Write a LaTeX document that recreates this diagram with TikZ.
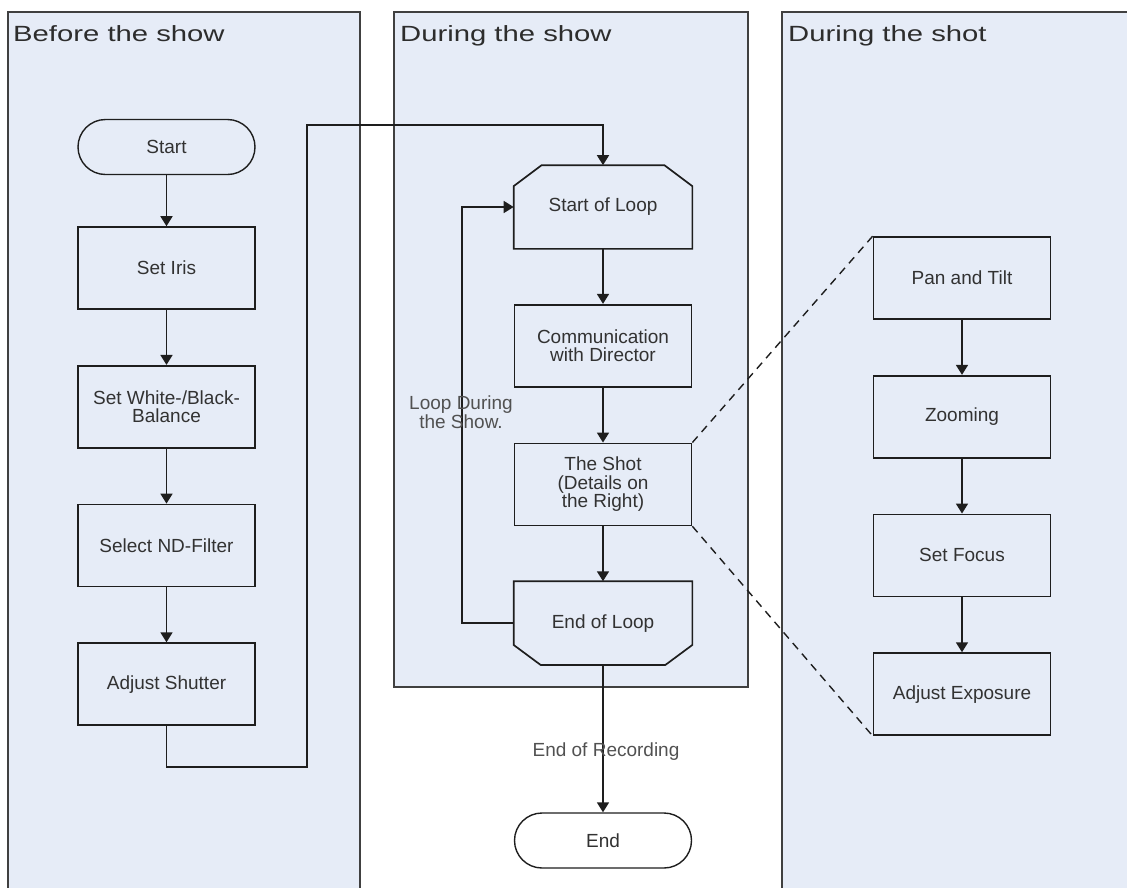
\documentclass[tikz,border=0pt]{standalone}
\usepackage{fontspec}
\setmainfont{Liberation Sans}
\newfontfamily\lanefont[FakeStretch=1.33]{Liberation Sans}
\usepackage{tikz}
\usetikzlibrary{positioning,arrows.meta,calc}

\definecolor{lanebg}{RGB}{230,236,247}
\definecolor{edge}{RGB}{30,30,30}
\definecolor{txt}{RGB}{50,50,50}

\tikzset{
  lane/.style={draw=edge!85, line width=1.4pt, fill=lanebg},
  lanetitle/.style={anchor=base west, inner sep=0pt, text=txt!90!black, font=\lanefont\fontsize{22}{24}\selectfont},
  proc/.style={draw=edge, line width=1.7pt, minimum width=177pt, minimum height=82pt, inner sep=0pt,
    align=center, text=txt, font=\fontsize{19}{18.5}\selectfont},
  loopbox/.style={proc, draw=none},
  term/.style={draw=edge, line width=1.4pt, rounded corners=27.5pt, minimum width=177pt, minimum height=55pt,
    inner sep=0pt, text=txt, font=\fontsize{19}{18.5}\selectfont},
  note/.style={align=center, inner sep=0pt, text=txt!85, font=\fontsize{19}{18.5}\selectfont},
  flow/.style={draw=edge, line width=1.7pt, -{Triangle[width=12pt,length=10pt]}},
  link/.style={draw=edge, line width=1.4pt, dash pattern=on 8pt off 6pt}
}

\begin{document}
\begin{tikzpicture}[x=1pt,y=-1pt]
  \useasboundingbox (0,0) rectangle (1127,887);
  % the three lanes
  \draw[lane] (8,12) rectangle (360,900);
  \draw[lane] (394,12) rectangle (748,687);
  \draw[lane] (782,12) rectangle (1140,900);
  \node[lanetitle] (t1) at (13,41) {Before the show};
  \node[lanetitle] (t2) at (400,41) {During the show};
  \node[lanetitle] (t3) at (788,41) {During the shot};

  % before the show
  \node[term] (start) at (166.5,147) {Start};
  \node[proc, below=51pt of start] (iris) {Set Iris};
  \node[proc, below=55pt of iris] (balance) {Set White-/Black-\\Balance};
  \node[proc, below=55pt of balance] (nd) {Select ND-Filter};
  \node[proc, below=55pt of nd] (shutter) {Adjust Shutter};

  % during the show
  \node[loopbox] (sl) at (603,207) {Start of Loop};
  \node[proc, below=55pt of sl] (comm) {Communication\\with Director};
  \node[proc, below=55pt of comm] (shot) {The Shot\\(Details on\\the Right)};
  \node[loopbox, below=55pt of shot] (el) {End of Loop};
  \node[term, fill=white] (end) at (603,840.5) {End};
  % loop limit shapes
  \draw[draw=edge, line width=1.7pt] ($(sl.north west)+(0pt,-21pt)$) -- ($(sl.north west)+(28pt,0pt)$)
    -- ($(sl.north east)+(-28pt,0pt)$) -- ($(sl.north east)+(0pt,-21pt)$)
    -- (sl.south east) -- (sl.south west) -- cycle;
  \draw[draw=edge, line width=1.7pt] (el.north west) -- (el.north east)
    -- ($(el.south east)+(0pt,20pt)$) -- ($(el.south east)+(-27pt,0pt)$)
    -- ($(el.south west)+(27pt,0pt)$) -- ($(el.south west)+(0pt,20pt)$) -- cycle;

  % during the shot
  \node[proc] (pan) at (962,278) {Pan and Tilt};
  \node[proc, below=55pt of pan] (zoom) {Zooming};
  \node[proc, below=55pt of zoom] (focus) {Set Focus};
  \node[proc, below=55pt of focus] (expo) {Adjust Exposure};

  % connectors
  \draw[flow] (start) -- (iris);
  \draw[flow] (iris) -- (balance);
  \draw[flow] (balance) -- (nd);
  \draw[flow] (nd) -- (shutter);
  \coordinate (up) at (307,125);
  \draw[flow] (shutter.south) -- ++(0,41) -| (up) -| (sl.north);
  \draw[flow] (sl) -- (comm);
  \draw[flow] (comm) -- (shot);
  \draw[flow] (shot) -- (el);
  \draw[flow] (el.west) -- ++(-52,0) |- (sl.west);
  \draw[flow] (el) -- (end);
  \draw[flow] (pan) -- (zoom);
  \draw[flow] (zoom) -- (focus);
  \draw[flow] (focus) -- (expo);
  \draw[link] (shot.north east) -- (pan.north west);
  \draw[link] (shot.south east) -- (expo.south west);

  % labels on the lines
  \node[note] (looplbl) at (461,412) {Loop During\\the Show.};
  \node[note] (reclbl) at (606,752) {End of Recording};
\end{tikzpicture}
\end{document}
